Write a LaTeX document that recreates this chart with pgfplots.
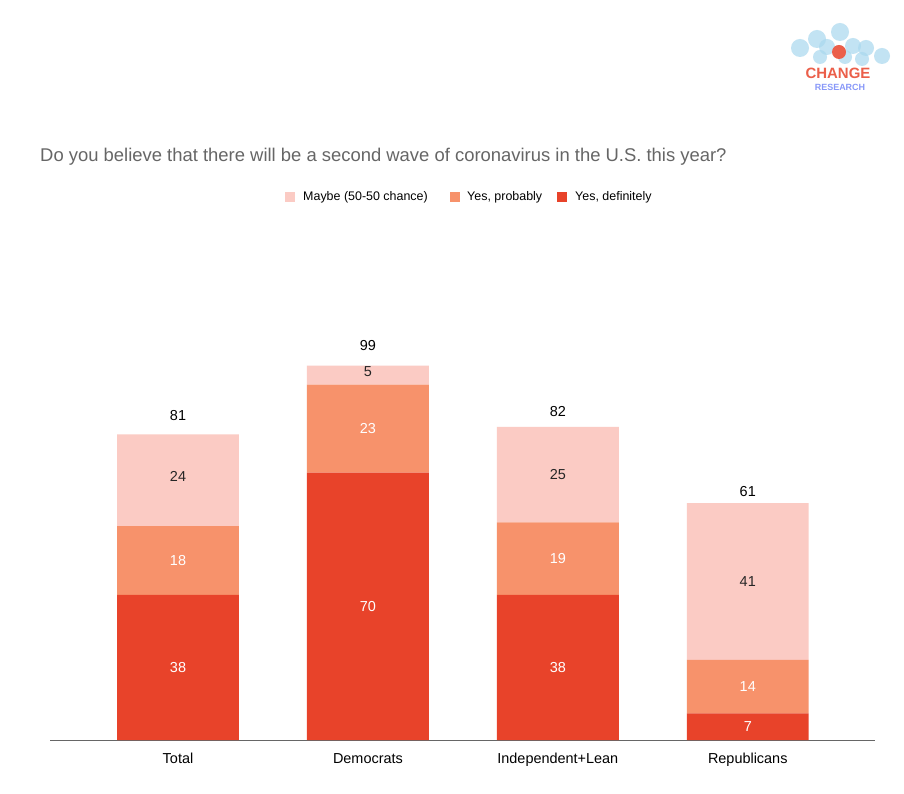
\documentclass[border=0pt]{standalone}
\usepackage{pgfplots}
\pgfplotsset{compat=1.18}
\usepackage{fontspec}
\setmainfont{Liberation Sans}
\definecolor{cDef}{HTML}{E8432A}
\definecolor{cProb}{HTML}{F7926B}
\definecolor{cMay}{HTML}{FBCBC4}
\definecolor{cLogo}{HTML}{A9D8EE}
\pgfplotsset{common/.style={at={(50bp,54bp)},anchor=south west,scale only axis,clip=false,
  width=825bp,height=382bp,ymin=0,ymax=100,xmin=-0.674,xmax=3.67}}
\begin{document}
\begin{tikzpicture}
\path[use as bounding box,fill=white] (0,0) rectangle (904bp,794bp);
% logo
\begin{scope}[fill opacity=0.7]
\foreach \x/\y/\r in {800/746/9, 817/755/9, 827/747/8, 840/762/9, 853/748/8, 866/746/8, 882/738/8, 845/737/7, 862/735/7, 820/737/7}
  \fill[cLogo] (\x bp,\y bp) circle (\r bp);
\end{scope}
\fill[cDef!85!white] (839bp,742bp) circle (7bp);
\node[text=cDef!85!white,font=\bfseries\fontsize{15}{15}\selectfont,inner sep=0] at (838bp,721bp) {CHANGE};
\node[text=cLogo!50!blue!70!white,font=\bfseries\fontsize{9}{9}\selectfont,inner sep=0] at (840bp,707bp) {RESEARCH};
% title
\node[anchor=west,text=black!60,font=\fontsize{18.5}{18.5}\selectfont,inner sep=0] at (40bp,637bp) {Do you believe that there will be a second wave of coronavirus in the U.S. this year?};
% legend
\begin{scope}[font=\fontsize{12.5}{12.5}\selectfont]
\fill[cMay] (285bp,592bp) rectangle +(10bp,10bp);
\node[anchor=west,inner sep=0] at (303bp,597bp) {Maybe (50-50 chance)};
\fill[cProb] (450bp,592bp) rectangle +(10bp,10bp);
\node[anchor=west,inner sep=0] at (467bp,597bp) {Yes, probably};
\fill[cDef] (557bp,592bp) rectangle +(10bp,10bp);
\node[anchor=west,inner sep=0] at (575bp,597bp) {Yes, definitely};
\end{scope}
\begin{axis}[common,
  ybar stacked,bar width=0.642,
  axis y line=none, axis x line*=bottom,
  x axis line style={black!60,line width=0.8pt,-},
  xtick={0,1,2,3},xticklabels={Total,Democrats,Independent+Lean,Republicans},
  xtick style={draw=none},
  xticklabel style={font=\fontsize{14.5}{14.5}\selectfont,text height=11bp,text depth=3bp,yshift=-9bp},
]
\addplot[fill=cDef,draw=none] coordinates {(0,38) (1,70) (2,38) (3,7)};
\addplot[fill=cProb,draw=none] coordinates {(0,18) (1,23) (2,19) (3,14)};
\addplot[fill=cMay,draw=none] coordinates {(0,24) (1,5) (2,25) (3,41)};
\end{axis}
\begin{axis}[common,axis lines=none,
  nodes near coords,point meta=explicit symbolic,
  nodes near coords align=center,
  every node near coord/.append style={font=\fontsize{14.5}{14.5}\selectfont,anchor=center}]
\addplot[only marks,mark=none,nodes near coords style={text=white}] coordinates {
 (0,19) [38] (1,35) [70] (2,19) [38] (3,3.5) [7]
 (0,47) [18] (1,81.5) [23] (2,47.5) [19] (3,14) [14]};
\addplot[only marks,mark=none,nodes near coords style={text=black!85}] coordinates {
 (0,69) [24] (1,96.5) [5] (2,69.5) [25] (3,41.5) [41]};
\addplot[only marks,mark=none,nodes near coords style={text=black}] coordinates {
 (0,85) [81] (1,103.3) [99] (2,86) [82] (3,65) [61]};
\end{axis}
\end{tikzpicture}
\end{document}
